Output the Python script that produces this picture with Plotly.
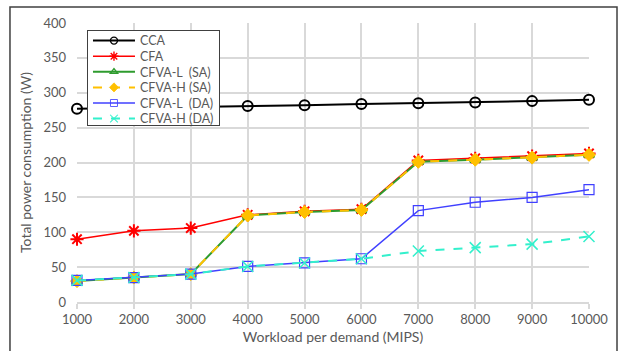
import plotly.graph_objects as go

workload = [1000, 2000, 3000, 4000, 5000, 6000, 7000, 8000, 9000, 10000]
cca = [277, 278, 279, 281, 282, 284, 285, 286, 288, 290]
cfa = [90, 102, 106, 125, 130, 133, 203, 206, 209, 213]
cfva_l_sa = [30, 35, 40, 124, 129, 132, 201, 204, 207, 211]
cfva_h_sa = [30, 35, 40, 124, 129, 132, 201, 204, 207, 211]
cfva_l_da = [31, 35, 40, 51, 56, 62, 131, 143, 150, 161]
cfva_h_da = [31, 35, 40, 51, 56, 62, 73, 78, 83, 94]
y_ticks = [0, 50, 100, 150, 200, 250, 300, 350, 400]

FONT = "Lato"
GRAY = "#595959"
GRID = "#D9D9D9"

fig = go.Figure()

def add(name, y, color, dash, symbol, msize, lw, mcolor=None, mline=None, mlw=1.5):
    fig.add_trace(go.Scatter(
        x=workload, y=y, name=name, mode="lines+markers",
        line=dict(color=color, width=lw, dash=dash),
        marker=dict(symbol=symbol, size=msize, color=mcolor or color,
                    line=dict(color=mline or color, width=mlw)),
        cliponaxis=False,
    ))

add("CCA", cca, "#000000", "solid", "circle-open", 10, 2, mlw=2)
add("CFA", cfa, "#FF0000", "solid", "asterisk-open", 11, 1.5, mlw=2)
add("CFVA-L  (SA)", cfva_l_sa, "#2E9B2E", "solid", "triangle-up-open", 9, 2, mlw=2)
add("CFVA-H (SA)", cfva_h_sa, "#FFC000", "dash", "diamond", 10, 2, mlw=1)
add("CFVA-L  (DA)", cfva_l_da, "#4040FF", "solid", "square-open", 10, 1.5, mlw=1.2)
add("CFVA-H (DA)", cfva_h_da, "#33F0CC", "dash", "x-thin-open", 11, 2, mlw=1.5)

fig.update_layout(
    width=619, height=351,
    margin=dict(l=77, r=30, t=23, b=49, autoexpand=False),
    paper_bgcolor="white", plot_bgcolor="white",
    font=dict(family=FONT, color=GRAY, size=13),
    showlegend=True,
    legend=dict(
        x=0.0195, y=0.975, xanchor="left", yanchor="top",
        bgcolor="white", bordercolor="#404040", borderwidth=1,
        font=dict(family=FONT, size=12.5, color=GRAY),
        tracegroupgap=0, itemwidth=42,
    ),
    shapes=[dict(
        type="rect", xref="paper", yref="paper",
        x0=-0.1309, x1=1.0547, y0=-0.25, y1=1.0573,
        line=dict(color="#404040", width=1.5), layer="below",
    )],
)

fig.update_xaxes(
    range=[1000, 10000], tickvals=workload, ticktext=[str(w) for w in workload],
    showgrid=True, gridcolor=GRID, gridwidth=1.5,
    showline=True, linecolor=GRID, linewidth=1.5,
    ticks="outside", ticklen=5, tickcolor=GRID, tickwidth=1.5,
    tickfont=dict(size=13, color=GRAY), zeroline=False, automargin=False,
    title=dict(text="Workload per demand (MIPS)", font=dict(size=14, color=GRAY), standoff=6),
)
fig.update_yaxes(
    range=[0, 400], tickvals=y_ticks,
    showgrid=True, gridcolor=GRID, gridwidth=1.5,
    showline=False, zeroline=False, automargin=False,
    ticks="", ticklabelstandoff=10,
    tickfont=dict(size=13, color=GRAY),
    title=dict(text="Total power consumption (W)", font=dict(size=14, color=GRAY), standoff=8),
)

post = """
document.body.style.margin='0';
document.body.style.overflow='hidden';
(function(){
  var gd = document.getElementById('{plot_id}');
  var tr = gd.querySelectorAll('.legend .traces');
  if (!tr.length) return;
  var xs = [], ys = [];
  tr.forEach(function(t){
    var m = /translate\\(\\s*([-\\d.e]+)[ ,]+([-\\d.e]+)\\s*\\)/.exec(t.getAttribute('transform') || '');
    xs.push(m ? +m[1] : 0); ys.push(m ? +m[2] : 0);
  });
  var step = tr.length > 1 ? ys[1] - ys[0] : 19;
  var ns = 15.6;
  var y0 = ys[0] - 5;
  tr.forEach(function(t, i){
    t.setAttribute('transform', 'translate(' + xs[i] + ',' + (y0 + i * ns) + ')');
  });
  var bg = gd.querySelector('.legend .bg');
  if (bg) {
    var h = +bg.getAttribute('height');
    bg.setAttribute('height', h - tr.length * (step - ns) - 10);
  }
  gd.querySelectorAll('.legend .legendpoints path.scatterpts').forEach(function(p){
    var tf = p.getAttribute('transform') || '';
    p.setAttribute('transform', tf + ' scale(0.7)');
  });
})();
"""

fig.write_html("out.html", config={"displayModeBar": False}, post_script=post)
